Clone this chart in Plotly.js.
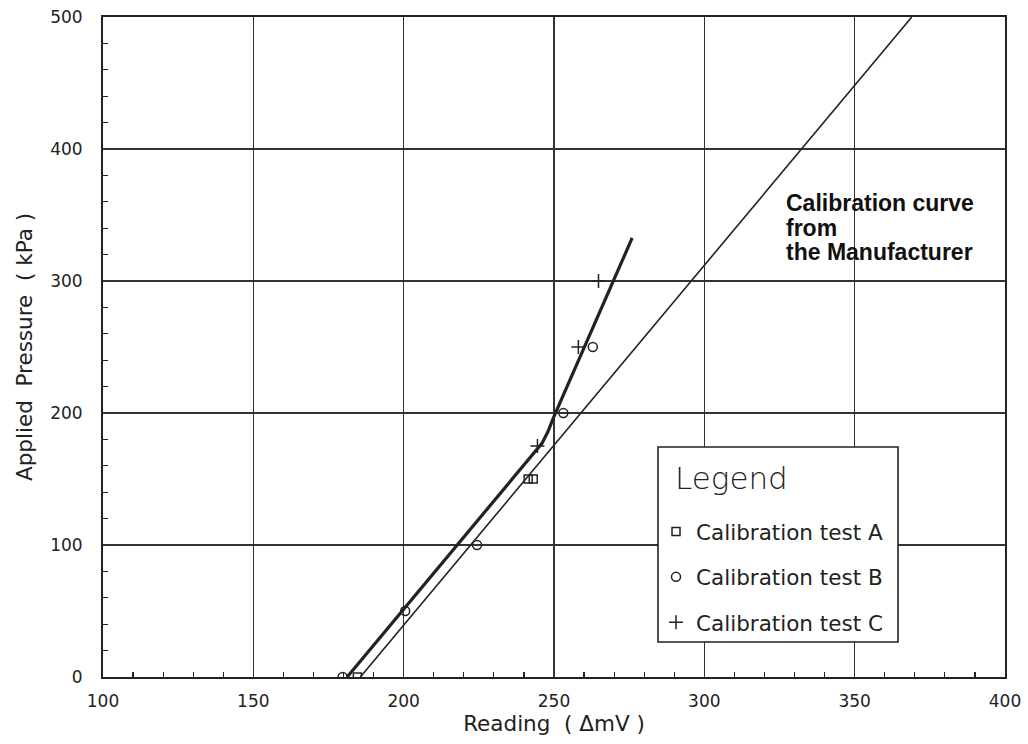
<!DOCTYPE html>
<html><head><meta charset="utf-8">
<script src="https://cdn.plot.ly/plotly-3.0.1.min.js"></script>
<style>html,body{margin:0;padding:0;background:#fff}</style>
</head><body><div id="chart" style="width:1028px;height:744px"></div>
<script>
// Calibration test data (Reading in ΔmV, Applied pressure in kPa)
const testA_x = [184.6, 241.4, 243.1];
const testA_y = [0, 150, 150];
const testB_x = [179.7, 200.5, 224.4, 253.1, 262.9];
const testB_y = [0, 50, 100, 200, 250];
const testC_x = [244.5, 258.1, 264.8];
const testC_y = [175, 250, 300];
// Fitted calibration curve (thick line)
const fit_x = [181.2, 246, 248, 250, 276];
const fit_y = [0, 177, 186, 197.5, 332.6];
// Manufacturer calibration curve (thin line)
const maker_x = [185.6, 369];
const maker_y = [0, 500];
const seriesNames = ['Calibration test A', 'Calibration test B', 'Calibration test C'];
const legendTitle = 'Legend';
const noteLines = ['Calibration curve', 'from', 'the Manufacturer'];
const noteX = 326.6;
const noteY = [359, 340, 322];

const FONT = 'DejaVu Sans, Verdana, sans-serif';
const BOLD_FONT = 'Liberation Sans, Arial, sans-serif';
const INK = '#222';

const traces = [
  {x: maker_x, y: maker_y, mode: 'lines', line: {color: INK, width: 1.6}, showlegend: false, hoverinfo: 'skip'},
  {x: fit_x, y: fit_y, mode: 'lines', line: {color: INK, width: 3.2}, showlegend: false, hoverinfo: 'skip'},
  {x: testA_x, y: testA_y, mode: 'markers', name: seriesNames[0], legendgroup: 'a',
   marker: {symbol: 'square-open', size: 8, color: INK, line: {width: 1.5, color: INK}}},
  {x: testB_x, y: testB_y, mode: 'markers', name: seriesNames[1], legendgroup: 'b',
   marker: {symbol: 'circle-open', size: 9, color: INK, line: {width: 1.5, color: INK}}},
  {x: testC_x, y: testC_y, mode: 'markers', name: seriesNames[2], legendgroup: 'c',
   marker: {symbol: 'cross-thin-open', size: 10, color: INK, line: {width: 1.5, color: INK}}}
];

const annotations = noteLines.map((t, i) => ({
  x: noteX, y: noteY[i], xref: 'x', yref: 'y', xanchor: 'left', yanchor: 'middle',
  text: '<b>' + t + '</b>', showarrow: false, font: {family: BOLD_FONT, size: 23, color: '#111'}
}));
annotations.push({
  x: 0.6319, y: 0.3015, xref: 'paper', yref: 'paper', xanchor: 'left', yanchor: 'middle',
  text: legendTitle, showarrow: false, font: {family: FONT, size: 31, color: INK, weight: 300}
});

const layout = {
  width: 1028, height: 744,
  margin: {l: 103, r: 23, t: 17, b: 67},
  paper_bgcolor: '#fff', plot_bgcolor: '#fff',
  font: {family: FONT, color: INK},
  showlegend: true,
  legend: {
    x: 0.6131, y: 0.2516, xanchor: 'left', yanchor: 'top',
    bgcolor: 'rgba(0,0,0,0)', borderwidth: 0,
    font: {family: FONT, size: 21.5, color: INK},
    traceorder: 'grouped', tracegroupgap: 14.5
  },
  shapes: [{
    type: 'rect', xref: 'paper', yref: 'paper',
    x0: 0.6153, x1: 0.8814, y0: 0.053, y1: 0.3485,
    fillcolor: '#fff', line: {color: INK, width: 1.6}, layer: 'above'
  }],
  xaxis: {
    range: [100, 400], dtick: 50, tick0: 100,
    showgrid: true, gridcolor: '#333', gridwidth: 1.5,
    showline: true, linecolor: INK, linewidth: 2, mirror: true,
    zeroline: false, ticks: '', ticklabelstandoff: 8,
    tickfont: {family: FONT, size: 17, color: INK},
    minor: {ticks: 'inside', ticklen: 5, dtick: 10, tickcolor: INK, tickwidth: 1.2, showgrid: false},
    title: {text: 'Reading\u00a0\u00a0( ΔmV )', font: {family: FONT, size: 21.5, color: INK}, standoff: 3}
  },
  yaxis: {
    range: [0, 500], dtick: 100, tick0: 0,
    showgrid: true, gridcolor: '#333', gridwidth: 1.5,
    showline: true, linecolor: INK, linewidth: 2, mirror: true,
    zeroline: false, ticks: '', ticklabelstandoff: 15,
    tickfont: {family: FONT, size: 17, color: INK},
    minor: {ticks: 'inside', ticklen: 5, dtick: 20, tickcolor: INK, tickwidth: 1.2, showgrid: false},
    title: {text: 'Applied\u00a0\u00a0Pressure\u00a0\u00a0( kPa )', font: {family: FONT, size: 21.5, color: INK}, standoff: 12}
  },
  annotations: annotations
};

Plotly.newPlot('chart', traces, layout, {displayModeBar: false, staticPlot: true});
</script>
</body></html>
